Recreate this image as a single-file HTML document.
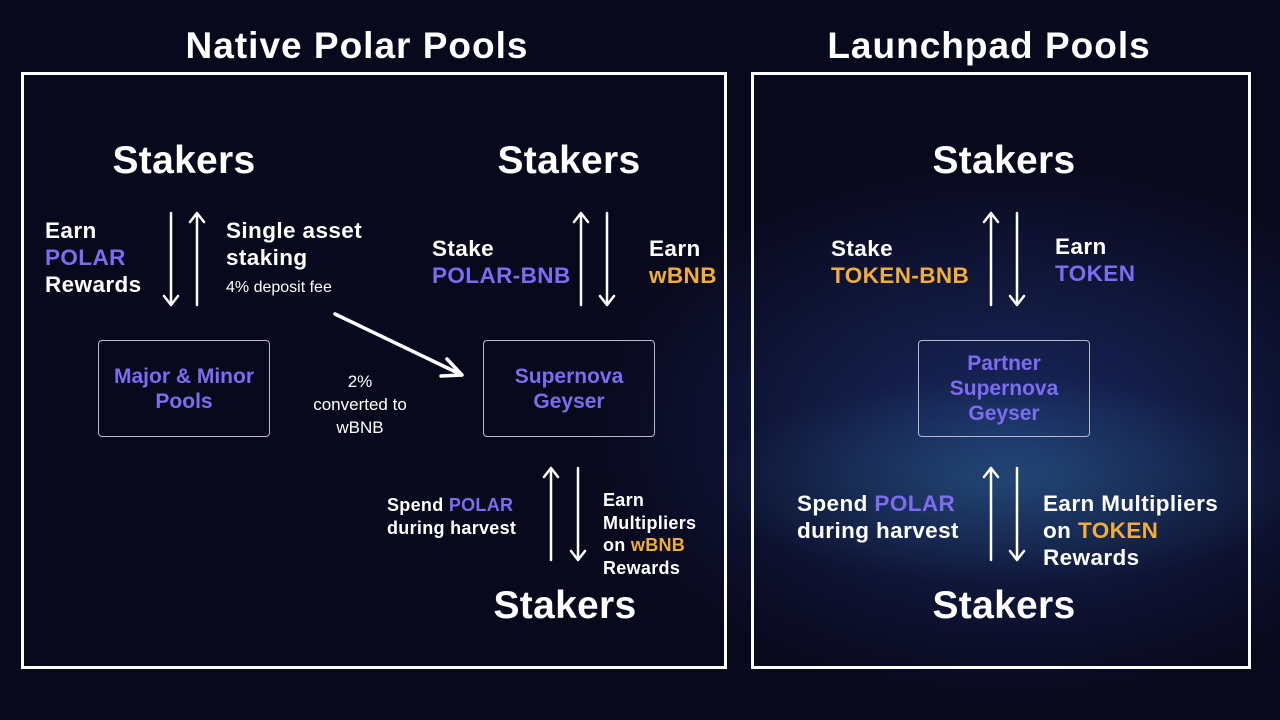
<!DOCTYPE html>
<html><head><meta charset="utf-8"><style>
*{margin:0;padding:0;box-sizing:border-box}
body{width:1280px;height:720px;overflow:hidden;position:relative;font-family:"Liberation Sans","DejaVu Sans",sans-serif;color:#fff;font-weight:bold;
background:radial-gradient(ellipse 420px 150px at 1010px 480px,rgba(60,150,190,.3),transparent 70%),radial-gradient(ellipse 560px 360px at 1010px 430px,rgba(40,70,160,.5),transparent 75%),#09091d;}
.t{position:absolute;white-space:nowrap;line-height:1}
.c{transform:translateX(-50%);text-align:center}
.p{color:#7d6cf2}.o{color:#f0ad3a}
.box{position:absolute;border:3px solid #fff}
.nb{position:absolute;border:1px solid #b9b9c8;border-radius:4px;display:flex;align-items:center;justify-content:center;text-align:center;color:#7d6cf2;font-size:21px;line-height:25px}
.st{font-size:39px;letter-spacing:.3px}
.h{font-size:37px;letter-spacing:1px}
.l22{font-size:22.5px;line-height:27px;letter-spacing:.4px}
.l18{font-size:18px;line-height:22.5px;letter-spacing:.3px}
</style></head><body>
<div class="t c h" style="left:357px;top:27px">Native Polar Pools</div>
<div class="t c h" style="left:989px;top:27px">Launchpad Pools</div>
<div class="box" style="left:21px;top:72px;width:706px;height:597px"></div>
<div class="box" style="left:751px;top:72px;width:500px;height:597px"></div>

<div class="t c st" style="left:184px;top:141px">Stakers</div>
<div class="t c st" style="left:569px;top:141px">Stakers</div>
<div class="t c st" style="left:1004px;top:141px">Stakers</div>
<div class="t c st" style="left:565px;top:586px">Stakers</div>
<div class="t c st" style="left:1004px;top:586px">Stakers</div>

<div class="t l22" style="left:45px;top:217px">Earn<br><span class="p">POLAR</span><br>Rewards</div>
<div class="t l22" style="left:226px;top:217px">Single asset<br>staking</div>
<div class="t" style="left:226px;top:280px;font-size:16px;font-weight:normal">4% deposit fee</div>
<div class="t c" style="left:360px;top:370px;font-size:17px;font-weight:normal;line-height:23px">2%<br>converted to<br>wBNB</div>

<div class="nb" style="left:98px;top:340px;width:172px;height:97px">Major &amp; Minor<br>Pools</div>
<div class="nb" style="left:483px;top:340px;width:172px;height:97px">Supernova<br>Geyser</div>
<div class="nb" style="left:918px;top:340px;width:172px;height:97px">Partner<br>Supernova<br>Geyser</div>

<div class="t l22" style="left:432px;top:235px">Stake<br><span class="p">POLAR-BNB</span></div>
<div class="t l22" style="left:649px;top:235px">Earn<br><span class="o">wBNB</span></div>
<div class="t l18" style="left:387px;top:494px">Spend <span class="p">POLAR</span><br>during harvest</div>
<div class="t l18" style="left:603px;top:489px">Earn<br>Multipliers<br>on <span class="o">wBNB</span><br>Rewards</div>

<div class="t l22" style="left:831px;top:235px">Stake<br><span class="o">TOKEN-BNB</span></div>
<div class="t l22" style="left:1055px;top:233px">Earn<br><span class="p">TOKEN</span></div>
<div class="t l22" style="left:797px;top:490px">Spend <span class="p">POLAR</span><br>during harvest</div>
<div class="t l22" style="left:1043px;top:490px">Earn Multipliers<br>on <span class="o">TOKEN</span><br>Rewards</div>

<svg width="1280" height="720" style="position:absolute;left:0;top:0" fill="none" stroke="#fff" stroke-width="2.5" stroke-linecap="round" stroke-linejoin="round">
<defs>
<g id="dn"><path d="M0 0V92M-7 83L0 92L7 83"/></g>
<g id="up"><path d="M0 92V0M-7 9L0 0L7 9"/></g>
</defs>
<use href="#dn" x="171" y="213"/><use href="#up" x="197" y="213"/>
<use href="#up" x="581" y="213"/><use href="#dn" x="607" y="213"/>
<use href="#up" x="991" y="213"/><use href="#dn" x="1017" y="213"/>
<use href="#up" x="551" y="468"/><use href="#dn" x="578" y="468"/>
<use href="#up" x="991" y="468"/><use href="#dn" x="1017" y="468"/>
<path d="M335 314L462 375M447 359L462 375L441 376" stroke-width="3.5"/>
</svg>
</body></html>
